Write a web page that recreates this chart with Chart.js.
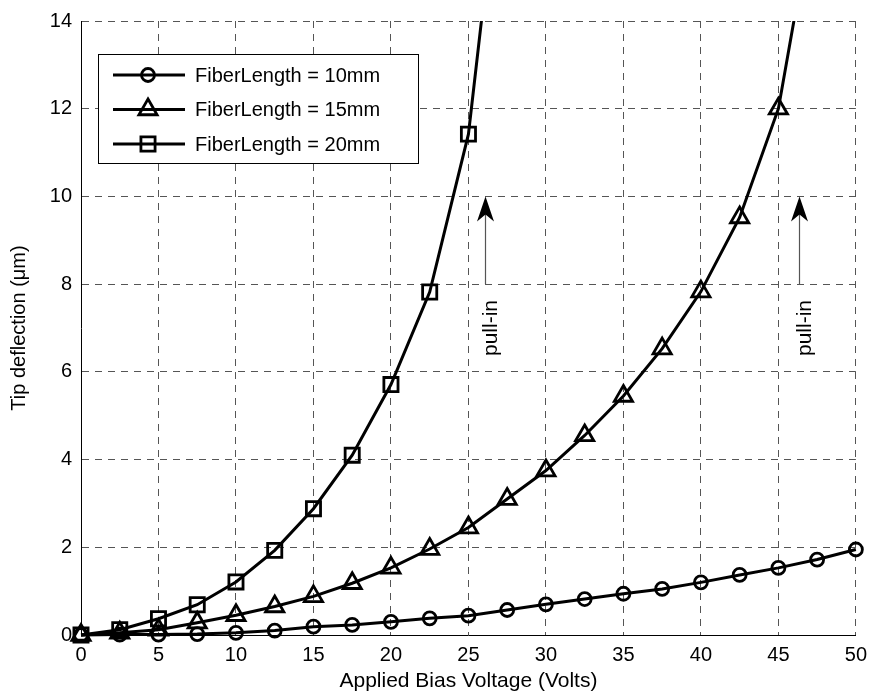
<!DOCTYPE html>
<html>
<head>
<meta charset="utf-8">
<title>Tip deflection vs bias voltage</title>
<script src="https://cdn.jsdelivr.net/npm/chart.js@4.4.0/dist/chart.umd.min.js"></script>
<style>
  html, body { margin: 0; padding: 0; background: #fff; }
  #wrap { width: 875px; height: 698px; }
</style>
</head>
<body>
<div id="wrap"><canvas id="tip-chart" width="875" height="698"></canvas></div>
<script>
// values
const volts10 = [0, 2.5, 5, 7.5, 10, 12.5, 15, 17.5, 20, 22.5, 25, 27.5, 30, 32.5, 35, 37.5, 40, 42.5, 45, 47.5, 50];
const tip10   = [0, 0.01, 0.01, 0.02, 0.05, 0.1, 0.19, 0.23, 0.3, 0.38, 0.44, 0.57, 0.7, 0.82, 0.94, 1.05, 1.2, 1.37, 1.53, 1.72, 1.95];

// last point of 15mm / 20mm has no marker, the curve runs off the top (pull-in)
const volts15 = [0, 2.5, 5, 7.5, 10, 12.5, 15, 17.5, 20, 22.5, 25, 27.5, 30, 32.5, 35, 37.5, 40, 42.5, 45, 46.25];
const tip15   = [0, 0.05, 0.12, 0.28, 0.45, 0.65, 0.88, 1.18, 1.53, 1.96, 2.45, 3.1, 3.75, 4.55, 5.45, 6.53, 7.83, 9.52, 12.0, 14.5];

const volts20 = [0, 2.5, 5, 7.5, 10, 12.5, 15, 17.5, 20, 22.5, 25, 26];
const tip20   = [0, 0.12, 0.37, 0.69, 1.21, 1.93, 2.88, 4.1, 5.71, 7.82, 11.42, 14.5];

const seriesLabels = ["FiberLength = 10mm", "FiberLength = 15mm", "FiberLength = 20mm"];
const xTickValues = [0, 5, 10, 15, 20, 25, 30, 35, 40, 45, 50];
const yTickValues = [0, 2, 4, 6, 8, 10, 12, 14];

// pull-in arrows (voltage, from deflection, to deflection)
const pullInX = [26.07, 46.36];
const pullInFrom = 8;
const pullInTo = 10;
const pullInText = "pull-in";

const FONT = 'Arial, "Liberation Sans", Helvetica, sans-serif';
Chart.defaults.font.family = FONT;
Chart.defaults.font.size = 20;
Chart.defaults.color = "#000";

function toXY(xs, ys) {
  return xs.map((x, i) => ({ x: x, y: ys[i] }));
}

const markerSize = { circle: 6.5, triangle: 10.5, rect: 10 };

function makeSet(label, xs, ys, style, markedCount) {
  return {
    label: label,
    data: toXY(xs, ys),
    borderColor: "#000",
    borderWidth: 3,
    tension: 0,
    pointStyle: style,
    pointRadius: ctx => (ctx.dataIndex < markedCount ? markerSize[style] : 0),
    pointHoverRadius: ctx => (ctx.dataIndex < markedCount ? markerSize[style] : 0),
    pointBorderColor: "#000",
    pointBackgroundColor: "rgba(0,0,0,0)",
    pointBorderWidth: 2.8,
    clip: { left: 16, right: 16, top: 0, bottom: 16 },
  };
}

function drawMarker(ctx, style, x, y, r) {
  ctx.beginPath();
  if (style === "circle") {
    ctx.arc(x, y, r, 0, Math.PI * 2);
  } else if (style === "triangle") {
    let a = 0;
    ctx.moveTo(x + Math.sin(a) * r, y - Math.cos(a) * r);
    a += Math.PI * 2 / 3;
    ctx.lineTo(x + Math.sin(a) * r, y - Math.cos(a) * r);
    a += Math.PI * 2 / 3;
    ctx.lineTo(x + Math.sin(a) * r, y - Math.cos(a) * r);
    ctx.closePath();
  } else {
    const s = Math.SQRT1_2 * r;
    ctx.rect(x - s, y - s, 2 * s, 2 * s);
  }
  ctx.stroke();
}

// legend box inside the plot, line + marker like the original
const boxLegend = {
  id: "boxLegend",
  afterDatasetsDraw(chart) {
    const { ctx, chartArea } = chart;
    const bx = chartArea.left + 17, by = chartArea.top + 33;
    const bw = 320, bh = 109;
    ctx.save();
    ctx.fillStyle = "#fff";
    ctx.fillRect(bx, by, bw, bh);
    ctx.strokeStyle = "#000";
    ctx.lineWidth = 1;
    ctx.strokeRect(bx + 0.5, by + 0.5, bw, bh);
    chart.data.datasets.forEach((ds, i) => {
      const y = by + 21 + i * 34.5;
      ctx.strokeStyle = "#000";
      ctx.lineWidth = 3;
      ctx.beginPath();
      ctx.moveTo(bx + 15, y);
      ctx.lineTo(bx + 87, y);
      ctx.stroke();
      ctx.lineWidth = 2.8;
      drawMarker(ctx, ds.pointStyle, bx + 50, y, markerSize[ds.pointStyle]);
      ctx.fillStyle = "#000";
      ctx.font = "20px " + FONT;
      ctx.textBaseline = "middle";
      ctx.textAlign = "left";
      ctx.fillText(ds.label, bx + 97, y + 1);
    });
    ctx.restore();
  }
};

const pullInNotes = {
  id: "pullInNotes",
  afterDatasetsDraw(chart) {
    const { ctx } = chart;
    const xs = chart.scales.x, ys = chart.scales.y;
    ctx.save();
    pullInX.forEach(v => {
      const px = Math.round(xs.getPixelForValue(v)) + 0.5;
      const yTip = ys.getPixelForValue(pullInTo);
      const yBase = ys.getPixelForValue(pullInFrom);
      ctx.strokeStyle = "#555";
      ctx.lineWidth = 1.2;
      ctx.beginPath();
      ctx.moveTo(px, yBase);
      ctx.lineTo(px, yTip + 12);
      ctx.stroke();
      ctx.fillStyle = "#000";
      ctx.beginPath();
      ctx.moveTo(px, yTip);
      ctx.lineTo(px + 8.5, yTip + 25);
      ctx.lineTo(px, yTip + 18);
      ctx.lineTo(px - 8.5, yTip + 25);
      ctx.closePath();
      ctx.fill();
      // rotated label below the arrow
      ctx.save();
      ctx.translate(px + 6, ys.getPixelForValue(7.0));
      ctx.rotate(-Math.PI / 2);
      ctx.font = "21px " + FONT;
      ctx.textAlign = "center";
      ctx.textBaseline = "middle";
      ctx.fillText(pullInText, 0, 0);
      ctx.restore();
    });
    ctx.restore();
  }
};

new Chart(document.getElementById("tip-chart"), {
  type: "line",
  data: {
    datasets: [
      makeSet(seriesLabels[0], volts10, tip10, "circle", volts10.length),
      makeSet(seriesLabels[1], volts15, tip15, "triangle", volts15.length - 1),
      makeSet(seriesLabels[2], volts20, tip20, "rect", volts20.length - 1),
    ],
  },
  options: {
    responsive: false,
    animation: false,
    events: [],
    layout: { padding: { top: 20, right: 16, left: 0, bottom: 0 } },
    plugins: { legend: { display: false }, tooltip: { enabled: false } },
    scales: {
      x: {
        type: "linear",
        min: 0,
        max: 50,
        afterBuildTicks: s => { s.ticks = xTickValues.map(v => ({ value: v })); },
        afterFit: s => { s.height = 63; },
        ticks: { padding: 8, font: { size: 20 }, color: "#000", maxRotation: 0 },
        grid: { color: "#555", lineWidth: 1, drawTicks: false },
        border: { display: true, color: "#000", width: 1, dash: [7, 6] },
        title: { display: true, text: "Applied Bias Voltage (Volts)", font: { size: 21 }, color: "#000", padding: { top: 0, bottom: 4 } },
      },
      y: {
        type: "linear",
        min: 0,
        max: 14,
        afterBuildTicks: s => { s.ticks = yTickValues.map(v => ({ value: v })); },
        afterFit: s => { s.width = 81; },
        ticks: { padding: 9, font: { size: 20 }, color: "#000" },
        grid: { color: "#555", lineWidth: 1, drawTicks: false },
        border: { display: true, color: "#000", width: 1, dash: [7, 6] },
        title: { display: true, text: "Tip deflection (\u03bcm)", font: { size: 20 }, color: "#000", padding: { top: 7, bottom: 0 } },
      },
    },
  },
  plugins: [boxLegend, pullInNotes],
});
</script>
</body>
</html>
